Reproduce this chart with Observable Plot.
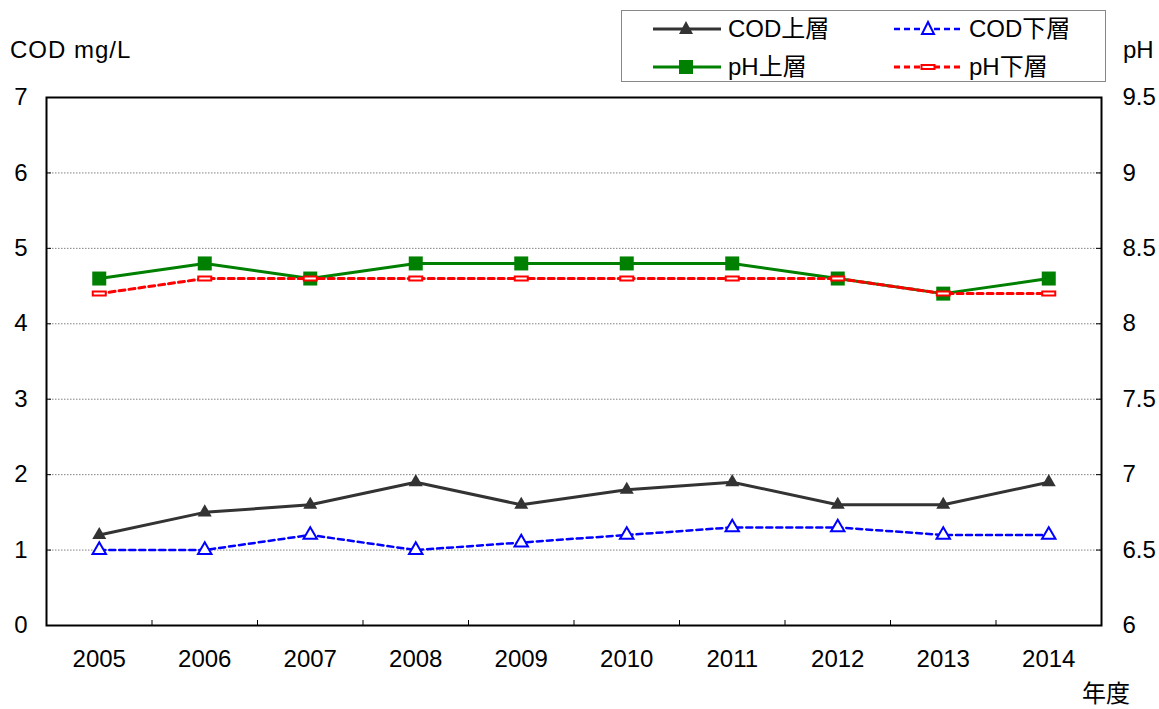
<!DOCTYPE html>
<html><head><meta charset="utf-8">
<script src="https://cdn.jsdelivr.net/npm/d3@7"></script>
<script src="https://cdn.jsdelivr.net/npm/@observablehq/plot@0.6"></script>
<style>
body{margin:0;background:#fff;font-family:"Liberation Sans","Noto Sans CJK JP",sans-serif;}
#wrap{position:relative;width:1159px;height:709px;overflow:hidden;}
.lbl{position:absolute;font-size:24px;color:#000;white-space:nowrap;line-height:1;}
#legend{position:absolute;left:621px;top:10px;width:483px;height:70px;border:1px solid #888;background:#fff;}
#legend .item{position:absolute;display:flex;align-items:center;height:30px;}
#legend .item span{font-size:24px;margin-left:6px;line-height:1;}
svg text{font-family:"Liberation Sans","Noto Sans CJK JP",sans-serif;}
</style></head><body><div id="wrap"></div>
<script>
const years = [2005,2006,2007,2008,2009,2010,2011,2012,2013,2014];
const codUpper = [1.2,1.5,1.6,1.9,1.6,1.8,1.9,1.6,1.6,1.9];
const codLower = [1.0,1.0,1.2,1.0,1.1,1.2,1.3,1.3,1.2,1.2];
const phUpper  = [8.3,8.4,8.3,8.4,8.4,8.4,8.4,8.3,8.2,8.3];
const phLower  = [8.2,8.3,8.3,8.3,8.3,8.3,8.3,8.3,8.2,8.2];
const codTicks = [0,1,2,3,4,5,6,7];
const phTicks  = [6,6.5,7,7.5,8,8.5,9,9.5];
const gridValues = [1,2,3,4,5,6];
const seriesNames = ["COD上層","COD下層","pH上層","pH下層"];
const leftTitle = "COD mg/L", rightTitle = "pH", xTitle = "年度";

const phToCod = d3.scaleLinear([6, 9.5], [0, 7]);
const rows = years.map((y, i) => ({
  year: y, codU: codUpper[i], codL: codLower[i],
  phU: phToCod(phUpper[i]), phL: phToCod(phLower[i])
}));
const boundaries = years.slice(0, -1).map(y => y + 0.5);

const flatRect = {draw(ctx) { ctx.rect(-6.5, -2, 13, 4); }};

const W = 1159, H = 709, mL = 46, mR = 58, mT = 97, mB = 84;
const innerW = W - mL - mR, innerH = H - mT - mB;

const chart = Plot.plot({
  width: W, height: H,
  marginLeft: mL, marginRight: mR, marginTop: mT, marginBottom: mB,
  style: {fontSize: "24px", fontFamily: '"Liberation Sans","Noto Sans CJK JP",sans-serif', color: "#000", background: "#fff"},
  x: {domain: [2004.5, 2014.5], label: null},
  y: {domain: [0, 7], label: null},
  marks: [
    Plot.ruleY(gridValues, {stroke: "#808080", strokeWidth: 1, strokeDasharray: "1.5,1.5"}),
    Plot.tickY(codTicks, {y: d => d, stroke: "#000", strokeWidth: 1, insetRight: innerW - 5}),
    Plot.tickY(codTicks, {y: d => d, stroke: "#000", strokeWidth: 1, insetLeft: innerW - 5}),
    Plot.tickX(boundaries, {x: d => d, stroke: "#000", strokeWidth: 1, insetTop: innerH - 5}),
    Plot.frame({stroke: "#000", strokeWidth: 2}),
    Plot.axisX(years, {tickSize: 0, tickPadding: 24, tickFormat: d => String(d), fontSize: 24, label: null}),
    Plot.axisY(codTicks, {anchor: "left", tickSize: 0, tickPadding: 19, tickFormat: d => String(d), fontSize: 24, label: null}),
    Plot.axisY(codTicks, {anchor: "right", tickSize: 0, tickPadding: 21, tickFormat: (d, i) => String(phTicks[i]), fontSize: 24, label: null}),
    Plot.line(rows, {x: "year", y: "codU", stroke: "#333333", strokeWidth: 3}),
    Plot.dot(rows, {x: "year", y: "codU", symbol: "triangle", r: 5.2, fill: "#333333"}),
    Plot.line(rows, {x: "year", y: "codL", stroke: "#0000ff", strokeWidth: 2.5, strokeDasharray: "6,4"}),
    Plot.dot(rows, {x: "year", y: "codL", symbol: "triangle", r: 5, fill: "#fff", stroke: "#0000ff", strokeWidth: 2}),
    Plot.line(rows, {x: "year", y: "phU", stroke: "#008000", strokeWidth: 3}),
    Plot.dot(rows, {x: "year", y: "phU", symbol: "square", r: 7.9, fill: "#008000"}),
    Plot.line(rows, {x: "year", y: "phL", stroke: "#ff0000", strokeWidth: 3, strokeDasharray: "6,4"}),
    Plot.dot(rows, {x: "year", y: "phL", symbol: flatRect, fill: "#fff", stroke: "#ff0000", strokeWidth: 2})
  ]
});
const wrap = document.getElementById("wrap");
wrap.appendChild(chart);

function addLabel(text, left, top, ls) {
  const d = document.createElement("div");
  d.className = "lbl"; d.textContent = text;
  d.style.left = left + "px"; d.style.top = top + "px";
  if (ls) d.style.letterSpacing = ls;
  wrap.appendChild(d);
}
addLabel(leftTitle, 10, 38, "1px");
addLabel(rightTitle, 1123, 38);
addLabel(xTitle, 1082, 682);

// legend
const legendSpecs = [
  {name: seriesNames[0], stroke: "#333333", dash: null, sw: 3, marker: `<path d="M34,7 L41,20 L27,20 Z" fill="#333333"/>`},
  {name: seriesNames[1], stroke: "#0000ff", dash: "6,4", sw: 2.5, marker: `<path d="M35,8 L41,20 L29,20 Z" fill="#fff" stroke="#0000ff" stroke-width="2"/>`},
  {name: seriesNames[2], stroke: "#008000", dash: null, sw: 3, marker: `<rect x="27" y="8" width="14" height="14" fill="#008000"/>`},
  {name: seriesNames[3], stroke: "#ff0000", dash: "6,4", sw: 3, marker: `<rect x="28.5" y="13" width="13" height="4" fill="#fff" stroke="#ff0000" stroke-width="2"/>`}
];
const legend = document.createElement("div");
legend.id = "legend";
wrap.appendChild(legend);
const pos = [[30, 3], [271, 3], [30, 41], [271, 41]];
legendSpecs.forEach((s, i) => {
  const it = document.createElement("div");
  it.className = "item";
  it.style.left = pos[i][0] + "px"; it.style.top = pos[i][1] + "px";
  it.innerHTML = `<svg width="70" height="30"><line x1="1" x2="69" y1="15" y2="15" stroke="${s.stroke}" stroke-width="${s.sw}" ${s.dash ? `stroke-dasharray="${s.dash}"` : ""}/>${s.marker}</svg><span>${s.name}</span>`;
  legend.appendChild(it);
});
</script>
</body></html>
